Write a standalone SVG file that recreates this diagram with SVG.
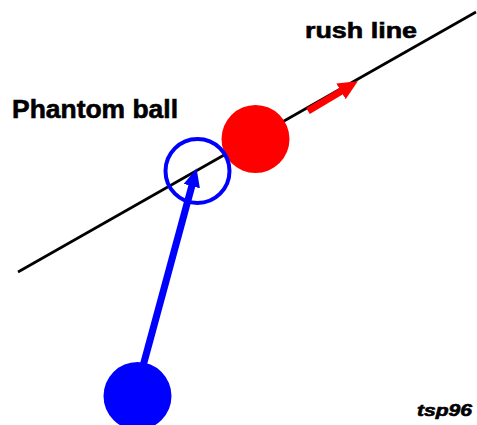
<svg xmlns="http://www.w3.org/2000/svg" width="477" height="425" viewBox="0 0 477 425">
<style>
text{font-family:"Liberation Sans",Arial,sans-serif;font-weight:bold;fill:#000;stroke:#000;stroke-width:0.6}
</style>
<defs>
<marker id="ab" markerWidth="3" markerHeight="2.4" refX="1.2" refY="1.2" orient="auto" markerUnits="strokeWidth"><path d="M0,0 L2.6,1.2 L0,2.4 Z" fill="#0000ff"/></marker>
<marker id="ar" markerWidth="3" markerHeight="3" refX="1.5" refY="1.3" orient="auto" markerUnits="strokeWidth"><path d="M0,0 L2.8,1.3 L0,2.6 Z" fill="#ff0000"/></marker>
</defs>
<rect width="477" height="425" fill="#fff"/>
<g id="connectors">
<path id="rush-line" d="M18,272 L476,12" stroke="#000" stroke-width="2.6" fill="none"/>
<path id="blue-arrow" d="M143,366 L194,178" stroke="#0000ff" stroke-width="7" fill="none" marker-end="url(#ab)"/>
<path id="red-arrow" d="M308,111 L350,86" stroke="#ff0000" stroke-width="7" fill="none" marker-end="url(#ar)"/>
</g>
<g id="red-ball"><circle cx="255.5" cy="139" r="34" fill="#ff0000"/></g>
<g id="phantom-ball"><circle cx="197.5" cy="171" r="32" fill="none" stroke="#0000ff" stroke-width="4"/></g>
<g id="cue-ball"><circle cx="137.5" cy="396" r="34" fill="#0000ff"/></g>
<g id="labels">
<text x="12" y="118" font-size="26" textLength="166" lengthAdjust="spacingAndGlyphs">Phantom ball</text>
<text x="305" y="38" font-size="22" textLength="112" lengthAdjust="spacingAndGlyphs">rush line</text>
<text x="417" y="416" font-size="16" font-style="italic" textLength="55" lengthAdjust="spacingAndGlyphs">tsp96</text>
</g>
</svg>
